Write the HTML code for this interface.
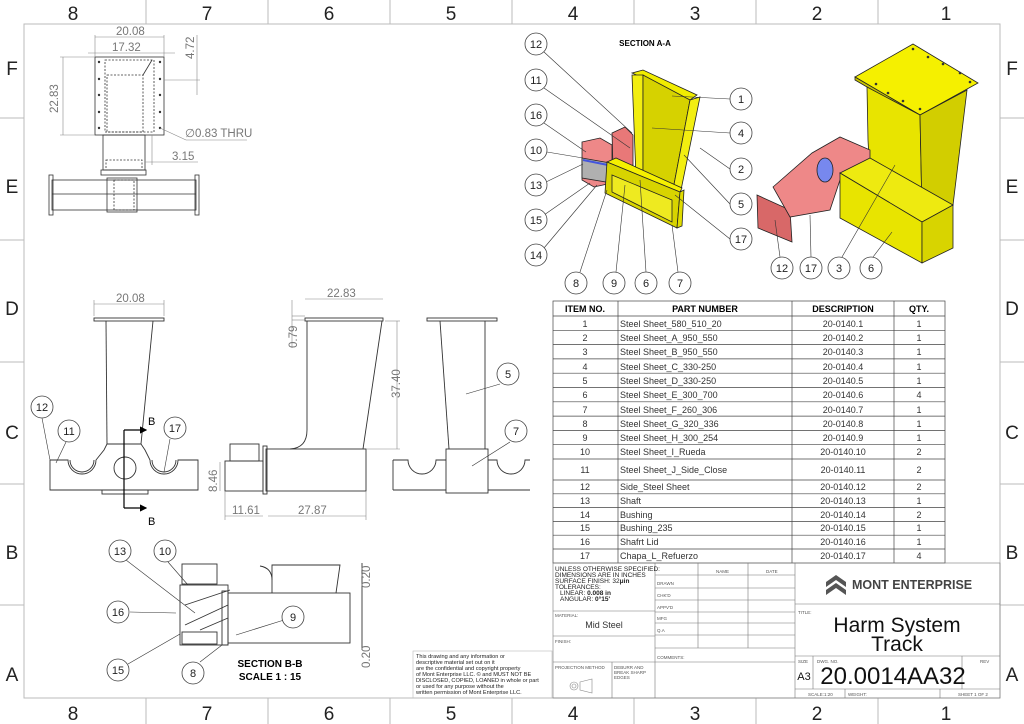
<!DOCTYPE html>
<html><head><meta charset="utf-8"><style>
html,body{margin:0;padding:0;background:#fff;}
svg{display:block;font-family:"Liberation Sans",sans-serif;}
</style></head><body>
<svg width="1024" height="724" viewBox="0 0 1024 724" xmlns="http://www.w3.org/2000/svg">
<defs>
<marker id="ar" markerWidth="6" markerHeight="6" refX="5" refY="3" orient="auto"><path d="M0,0 L6,3 L0,6z" fill="#000"/></marker>
</defs>
<!-- frame -->
<rect x="24" y="24" width="976" height="674" fill="none" stroke="#bbb" stroke-width="1"/>
<g stroke="#bbb">
<line x1="146" y1="0" x2="146" y2="24"/><line x1="268" y1="0" x2="268" y2="24"/><line x1="390" y1="0" x2="390" y2="24"/><line x1="512" y1="0" x2="512" y2="24"/><line x1="634" y1="0" x2="634" y2="24"/><line x1="756" y1="0" x2="756" y2="24"/><line x1="878" y1="0" x2="878" y2="24"/>
<line x1="146" y1="698" x2="146" y2="724"/><line x1="268" y1="698" x2="268" y2="724"/><line x1="390" y1="698" x2="390" y2="724"/><line x1="512" y1="698" x2="512" y2="724"/><line x1="634" y1="698" x2="634" y2="724"/><line x1="756" y1="698" x2="756" y2="724"/><line x1="878" y1="698" x2="878" y2="724"/>
<line x1="0" y1="118" x2="24" y2="118"/><line x1="0" y1="240" x2="24" y2="240"/><line x1="0" y1="362" x2="24" y2="362"/><line x1="0" y1="484" x2="24" y2="484"/><line x1="0" y1="605" x2="24" y2="605"/>
<line x1="1000" y1="118" x2="1024" y2="118"/><line x1="1000" y1="240" x2="1024" y2="240"/><line x1="1000" y1="362" x2="1024" y2="362"/><line x1="1000" y1="484" x2="1024" y2="484"/><line x1="1000" y1="605" x2="1024" y2="605"/>
</g>
<g font-size="19" fill="#222" text-anchor="middle">
<text x="73" y="20">8</text><text x="207" y="20">7</text><text x="329" y="20">6</text><text x="451" y="20">5</text><text x="573" y="20">4</text><text x="695" y="20">3</text><text x="817" y="20">2</text><text x="946" y="20">1</text>
<text x="73" y="720">8</text><text x="207" y="720">7</text><text x="329" y="720">6</text><text x="451" y="720">5</text><text x="573" y="720">4</text><text x="695" y="720">3</text><text x="817" y="720">2</text><text x="946" y="720">1</text>
<text x="12" y="75">F</text><text x="12" y="193">E</text><text x="12" y="315">D</text><text x="12" y="439">C</text><text x="12" y="559">B</text><text x="12" y="681">A</text>
<text x="1012" y="75">F</text><text x="1012" y="193">E</text><text x="1012" y="315">D</text><text x="1012" y="439">C</text><text x="1012" y="559">B</text><text x="1012" y="681">A</text>
</g>

<!-- top-left view -->
<g fill="none" stroke="#333" stroke-width="0.8">
<rect x="95" y="57" width="69" height="78"/>
<rect x="105" y="60" width="49" height="72" stroke-dasharray="2,1.5"/>
<rect x="107" y="75" width="36" height="57" stroke-dasharray="2,1.5"/>
<line x1="143" y1="75" x2="152" y2="60"/>
<rect x="103" y="135" width="42" height="35"/>
<rect x="106" y="160" width="36" height="10" stroke-dasharray="2,1.5"/>
<rect x="101" y="170" width="45" height="5"/>
<rect x="52" y="180" width="144" height="30"/>
<line x1="52" y1="194" x2="196" y2="194"/>
<rect x="49" y="175" width="4" height="40"/><rect x="195" y="175" width="4" height="40"/>
<rect x="107" y="178" width="30" height="34"/>
<rect x="114" y="180" width="20" height="30" stroke-dasharray="2,1.5"/>
</g>
<g fill="#333"><circle cx="99" cy="62" r="1.2"/><circle cx="99" cy="79" r="1.2"/><circle cx="99" cy="95" r="1.2"/><circle cx="99" cy="112" r="1.2"/><circle cx="99" cy="128" r="1.2"/><circle cx="160" cy="62" r="1.2"/><circle cx="160" cy="79" r="1.2"/><circle cx="160" cy="95" r="1.2"/><circle cx="160" cy="112" r="1.2"/><circle cx="160" cy="128" r="1.2"/></g>
<g stroke="#888" stroke-width="0.6" fill="none">
<line x1="95" y1="37" x2="164" y2="37"/><line x1="95" y1="35" x2="95" y2="57"/><line x1="164" y1="35" x2="164" y2="57"/>
<line x1="88" y1="53" x2="175" y2="53"/>
<line x1="60" y1="57" x2="95" y2="57"/><line x1="60" y1="135" x2="95" y2="135"/><line x1="63" y1="57" x2="63" y2="135"/>
<line x1="197" y1="35" x2="197" y2="95"/><line x1="164" y1="80" x2="200" y2="80"/>
<line x1="160" y1="128" x2="186" y2="140"/><line x1="186" y1="140" x2="247" y2="140"/>
<line x1="152" y1="135" x2="152" y2="165"/><line x1="145" y1="162" x2="198" y2="162"/>
</g>
<g fill="#777" font-size="11.5">
<text x="116" y="35">20.08</text><text x="112" y="51">17.32</text>
<text x="58" y="113" transform="rotate(-90 58 113)">22.83</text>
<text x="194" y="59" transform="rotate(-90 194 59)">4.72</text>
<text x="185" y="137">∅0.83 THRU</text><text x="172" y="160">3.15</text>
</g>

<!-- front view -->
<g fill="none" stroke="#333" stroke-width="0.9">
<rect x="94" y="318" width="70" height="3"/>
<line x1="106" y1="321" x2="107" y2="444"/><line x1="153" y1="321" x2="141" y2="444"/>
<line x1="107" y1="444" x2="141" y2="444"/>
<path d="M50,460 H68 A14,14 0 0 0 96,460 L104,450 L107,444"/>
<path d="M141,444 L145,450 L150,460 A14,14 0 0 0 178,460 H198 V490 H50 V460"/>
<path d="M70,460 A12,12 0 0 0 94,460"/><path d="M152,460 A12,12 0 0 0 176,460"/>
<circle cx="125" cy="468" r="11"/>
<rect x="102" y="490" width="46" height="4"/>
</g>
<g stroke="#888" stroke-width="0.6"><line x1="94" y1="304" x2="164" y2="304"/><line x1="94" y1="300" x2="94" y2="316"/><line x1="164" y1="300" x2="164" y2="316"/></g>
<text x="116" y="302" font-size="11.5" fill="#777">20.08</text>
<g stroke="#000" stroke-width="1.2"><line x1="124" y1="430" x2="124" y2="508"/><line x1="124" y1="430" x2="146" y2="430" marker-end="url(#ar)"/><line x1="124" y1="508" x2="146" y2="508" marker-end="url(#ar)"/></g>
<text x="148" y="425" font-size="11">B</text><text x="148" y="525" font-size="11">B</text>

<!-- side view -->
<g fill="none" stroke="#333" stroke-width="0.9">
<rect x="305" y="318" width="78" height="3"/>
<path d="M307,321 V430 Q307,448 290,449"/><line x1="382" y1="321" x2="363" y2="449"/>
<rect x="266" y="449" width="100" height="42"/>
<rect x="263" y="446" width="4" height="48"/>
<rect x="225" y="461" width="38" height="30"/>
<rect x="230" y="444" width="29" height="17"/>
</g>
<g stroke="#888" stroke-width="0.6" fill="none">
<line x1="305" y1="299" x2="383" y2="299"/><line x1="292" y1="316" x2="305" y2="316"/><line x1="292" y1="320" x2="305" y2="320"/><line x1="292" y1="300" x2="292" y2="348"/>
<line x1="385" y1="321" x2="400" y2="321"/><line x1="366" y1="449" x2="400" y2="449"/><line x1="397" y1="321" x2="397" y2="449"/>
<line x1="220" y1="462" x2="220" y2="491"/><line x1="225" y1="516" x2="263" y2="516"/><line x1="268" y1="516" x2="366" y2="516"/>
<line x1="225" y1="491" x2="225" y2="520"/><line x1="366" y1="491" x2="366" y2="520"/>
</g>
<g fill="#777" font-size="11.5">
<text x="327" y="297">22.83</text>
<text x="297" y="348" transform="rotate(-90 297 348)">0.79</text>
<text x="400" y="398" transform="rotate(-90 400 398)">37.40</text>
<text x="217" y="492" transform="rotate(-90 217 492)">8.46</text>
<text x="232" y="514">11.61</text><text x="298" y="514">27.87</text>
</g>

<!-- right view -->
<g fill="none" stroke="#333" stroke-width="0.9">
<rect x="427" y="318" width="70" height="3"/>
<line x1="440" y1="321" x2="449" y2="449"/><line x1="485" y1="321" x2="485" y2="449"/>
<rect x="446" y="449" width="42" height="44"/>
<path d="M393,460 H408 A14,14 0 0 0 436,460 H446 M488,460 H497 A14,14 0 0 0 525,460 H530"/>
<line x1="393" y1="460" x2="393" y2="490"/><line x1="393" y1="490" x2="446" y2="490"/><line x1="488" y1="490" x2="530" y2="490"/>
</g>

<!-- section B-B -->
<g fill="none" stroke="#333" stroke-width="0.9">
<rect x="228" y="593" width="122" height="50"/>
<path d="M272,593 V565 H340 L336,593"/><path d="M272,580 Q272,568 260,566"/>
<rect x="222" y="591" width="6" height="54"/>
<rect x="180" y="585" width="48" height="60"/>
<rect x="182" y="564" width="35" height="20"/>
<rect x="182" y="632" width="35" height="12"/>
<line x1="185" y1="605" x2="230" y2="590"/><line x1="185" y1="625" x2="228" y2="605"/><line x1="200" y1="630" x2="228" y2="618"/>
<line x1="362" y1="563" x2="362" y2="650"/>
</g>
<g fill="#777" font-size="11.5"><text x="370" y="588" transform="rotate(-90 370 588)">0.20</text><text x="370" y="668" transform="rotate(-90 370 668)">0.20</text></g>
<text x="270" y="667" font-size="10" font-weight="bold" text-anchor="middle">SECTION B-B</text>
<text x="270" y="680" font-size="10" font-weight="bold" text-anchor="middle">SCALE 1 : 15</text>

<!-- disclaimer -->
<rect x="413" y="651" width="139" height="47" fill="none" stroke="#bbb" stroke-width="0.6"/>
<g font-size="5.6" fill="#222">
<text x="416" y="658">This drawing and any information or</text>
<text x="416" y="664">descriptive material set out on it</text>
<text x="416" y="670">are the confidential and copyright property</text>
<text x="416" y="676">of Mont Enterprise LLC. © and MUST NOT BE</text>
<text x="416" y="682">DISCLOSED, COPIED, LOANED in whole or part</text>
<text x="416" y="688">or used for any purpose without the</text>
<text x="416" y="694">written permission of Mont Enterprise LLC.</text>
</g>

<!-- isometric left (section A-A) -->
<text x="645" y="46" font-size="8" font-weight="bold" text-anchor="middle">SECTION A-A</text>
<g stroke="#222" stroke-width="0.8">
<polygon points="632,73 643,70 697,95 690,100" fill="#f0ec00"/>
<polygon points="632,75 643,75 643,177 636,177" fill="#f2ee10"/>
<polygon points="643,75 690,100 672,195 643,180" fill="#d6d200"/>
<polygon points="690,100 700,97 680,195 672,195" fill="#f2ee10"/>
<polygon points="582,142 600,138 612,145 612,183 594,187 582,180" fill="#ee8888"/>
<polygon points="612,133 625,127 633,135 633,165 613,168" fill="#e87878"/>
<polygon points="582,158 610,163 612,183 582,178" fill="#b0b0b0"/>
<line x1="583" y1="160" x2="608" y2="165" stroke="#4455dd" stroke-width="2"/>
<polygon points="607,162 616,158 682,188 680,192" fill="#f5f000"/>
<polygon points="607,162 680,192 677,228 605,193" fill="#d8d400"/>
<polygon points="612,175 672,200 672,222 612,192" fill="#eeea20"/>
<polygon points="680,192 684,190 682,226 677,228" fill="#e0dc00"/>
</g>
<!-- isometric right -->
<g stroke="#222" stroke-width="0.8">
<polygon points="855,77 913,44 978,83 920,115" fill="#f5f000"/>
<polygon points="855,77 920,115 920,118 855,80" fill="#c8c400"/>
<polygon points="867,87 920,115 922,210 870,177 868,140" fill="#e8e400"/>
<polygon points="920,115 967,90 953,205 922,213" fill="#d2ce00"/>
<polygon points="757,195 790,210 792,242 758,228" fill="#d86868"/>
<polygon points="773,187 812,153 840,137 870,150 870,173 840,180 830,210 790,217" fill="#ee8888"/>
<ellipse cx="825" cy="170" rx="8" ry="12" fill="#7788ee"/>
<polygon points="840,173 870,158 953,205 922,222" fill="#eeea10"/>
<polygon points="840,173 922,222 922,263 840,218" fill="#e8e400"/>
<polygon points="922,222 953,205 953,248 922,263" fill="#d8d400"/>
</g>
<g fill="#333"><circle cx="913" cy="49" r="1.3"/><circle cx="928" cy="57" r="1.3"/><circle cx="943" cy="64" r="1.3"/><circle cx="960" cy="73" r="1.3"/><circle cx="970" cy="82" r="1.3"/><circle cx="876" cy="84" r="1.3"/><circle cx="888" cy="93" r="1.3"/><circle cx="903" cy="101" r="1.3"/><circle cx="920" cy="109" r="1.3"/></g>

<!-- leaders -->
<g stroke="#333" stroke-width="0.6" fill="none">
<line x1="544" y1="52" x2="632" y2="133"/><line x1="544" y1="88" x2="630" y2="148"/><line x1="544" y1="123" x2="586" y2="152"/>
<line x1="547" y1="152" x2="583" y2="158"/><line x1="544" y1="183" x2="583" y2="164"/><line x1="544" y1="215" x2="590" y2="183"/>
<line x1="544" y1="248" x2="597" y2="185"/><line x1="580" y1="272" x2="607" y2="190"/><line x1="616" y1="272" x2="625" y2="185"/>
<line x1="646" y1="272" x2="640" y2="180"/><line x1="678" y1="272" x2="672" y2="225"/>
<line x1="730" y1="99" x2="672" y2="96"/><line x1="730" y1="133" x2="652" y2="128"/><line x1="730" y1="169" x2="700" y2="148"/>
<line x1="730" y1="204" x2="684" y2="155"/><line x1="730" y1="239" x2="675" y2="195"/>
<line x1="780" y1="257" x2="775" y2="220"/><line x1="811" y1="257" x2="810" y2="215"/><line x1="842" y1="257" x2="895" y2="165"/><line x1="873" y1="257" x2="892" y2="232"/>
<line x1="42" y1="418" x2="50" y2="460"/><line x1="66" y1="442" x2="56" y2="463"/><line x1="170" y1="439" x2="164" y2="472"/>
<line x1="500" y1="384" x2="466" y2="394"/><line x1="510" y1="442" x2="472" y2="466"/>
<line x1="126" y1="560" x2="195" y2="613"/><line x1="168" y1="562" x2="188" y2="585"/><line x1="130" y1="612" x2="176" y2="613"/>
<line x1="128" y1="664" x2="180" y2="634"/><line x1="200" y1="662" x2="222" y2="645"/><line x1="284" y1="620" x2="236" y2="635"/>
</g>
<g fill="#fff" stroke="#444" stroke-width="0.8">
<circle cx="536" cy="44" r="11"/><circle cx="536" cy="80" r="11"/><circle cx="536" cy="115" r="11"/><circle cx="536" cy="150" r="11"/><circle cx="536" cy="185" r="11"/><circle cx="536" cy="220" r="11"/><circle cx="536" cy="255" r="11"/>
<circle cx="576" cy="283" r="11"/><circle cx="614" cy="283" r="11"/><circle cx="646" cy="283" r="11"/><circle cx="680" cy="283" r="11"/>
<circle cx="741" cy="99" r="11"/><circle cx="741" cy="133" r="11"/><circle cx="741" cy="169" r="11"/><circle cx="741" cy="204" r="11"/><circle cx="741" cy="239" r="11"/>
<circle cx="782" cy="268" r="11"/><circle cx="811" cy="268" r="11"/><circle cx="839" cy="268" r="11"/><circle cx="871" cy="268" r="11"/>
<circle cx="42" cy="407" r="11"/><circle cx="69" cy="431" r="11"/><circle cx="175" cy="428" r="11"/>
<circle cx="508" cy="374" r="11"/><circle cx="516" cy="431" r="11"/>
<circle cx="120" cy="551" r="11"/><circle cx="165" cy="551" r="11"/><circle cx="118" cy="612" r="11"/><circle cx="118" cy="670" r="11"/><circle cx="193" cy="673" r="11"/><circle cx="293" cy="617" r="11"/>
</g>
<g font-size="11" fill="#222" text-anchor="middle">
<text x="536" y="48">12</text><text x="536" y="84">11</text><text x="536" y="119">16</text><text x="536" y="154">10</text><text x="536" y="189">13</text><text x="536" y="224">15</text><text x="536" y="259">14</text>
<text x="576" y="287">8</text><text x="614" y="287">9</text><text x="646" y="287">6</text><text x="680" y="287">7</text>
<text x="741" y="103">1</text><text x="741" y="137">4</text><text x="741" y="173">2</text><text x="741" y="208">5</text><text x="741" y="243">17</text>
<text x="782" y="272">12</text><text x="811" y="272">17</text><text x="839" y="272">3</text><text x="871" y="272">6</text>
<text x="42" y="411">12</text><text x="69" y="435">11</text><text x="175" y="432">17</text>
<text x="508" y="378">5</text><text x="516" y="435">7</text>
<text x="120" y="555">13</text><text x="165" y="555">10</text><text x="118" y="616">16</text><text x="118" y="674">15</text><text x="193" y="677">8</text><text x="293" y="621">9</text>
</g>

<!-- BOM -->
<g stroke="#444" stroke-width="0.7" fill="none">
<rect x="553" y="301" width="392" height="262"/>
<line x1="618" y1="301" x2="618" y2="563"/><line x1="792" y1="301" x2="792" y2="563"/><line x1="894" y1="301" x2="894" y2="563"/>
<line x1="553" y1="316" x2="945" y2="316"/><line x1="553" y1="330.3" x2="945" y2="330.3"/><line x1="553" y1="344.6" x2="945" y2="344.6"/><line x1="553" y1="358.9" x2="945" y2="358.9"/><line x1="553" y1="373.2" x2="945" y2="373.2"/><line x1="553" y1="387.5" x2="945" y2="387.5"/><line x1="553" y1="401.8" x2="945" y2="401.8"/><line x1="553" y1="416.1" x2="945" y2="416.1"/><line x1="553" y1="430.4" x2="945" y2="430.4"/><line x1="553" y1="444.7" x2="945" y2="444.7"/><line x1="553" y1="459" x2="945" y2="459"/><line x1="553" y1="480" x2="945" y2="480"/><line x1="553" y1="493.8" x2="945" y2="493.8"/><line x1="553" y1="507.6" x2="945" y2="507.6"/><line x1="553" y1="521.4" x2="945" y2="521.4"/><line x1="553" y1="535.2" x2="945" y2="535.2"/><line x1="553" y1="549" x2="945" y2="549"/>
</g>
<g font-size="9" font-weight="bold" text-anchor="middle"><text x="585" y="312">ITEM NO.</text><text x="705" y="312">PART NUMBER</text><text x="843" y="312">DESCRIPTION</text><text x="919" y="312">QTY.</text></g>
<g font-size="9" fill="#333">
<g text-anchor="middle">
<text x="585" y="327">1</text><text x="585" y="341">2</text><text x="585" y="355">3</text><text x="585" y="370">4</text><text x="585" y="384">5</text><text x="585" y="398">6</text><text x="585" y="413">7</text><text x="585" y="427">8</text><text x="585" y="441">9</text><text x="585" y="455">10</text><text x="585" y="473">11</text><text x="585" y="490">12</text><text x="585" y="504">13</text><text x="585" y="518">14</text><text x="585" y="531">15</text><text x="585" y="545">16</text><text x="585" y="559">17</text>
<text x="843" y="327">20-0140.1</text><text x="843" y="341">20-0140.2</text><text x="843" y="355">20-0140.3</text><text x="843" y="370">20-0140.4</text><text x="843" y="384">20-0140.5</text><text x="843" y="398">20-0140.6</text><text x="843" y="413">20-0140.7</text><text x="843" y="427">20-0140.8</text><text x="843" y="441">20-0140.9</text><text x="843" y="455">20-0140.10</text><text x="843" y="473">20-0140.11</text><text x="843" y="490">20-0140.12</text><text x="843" y="504">20-0140.13</text><text x="843" y="518">20-0140.14</text><text x="843" y="531">20-0140.15</text><text x="843" y="545">20-0140.16</text><text x="843" y="559">20-0140.17</text>
<text x="919" y="327">1</text><text x="919" y="341">1</text><text x="919" y="355">1</text><text x="919" y="370">1</text><text x="919" y="384">1</text><text x="919" y="398">4</text><text x="919" y="413">1</text><text x="919" y="427">1</text><text x="919" y="441">1</text><text x="919" y="455">2</text><text x="919" y="473">2</text><text x="919" y="490">2</text><text x="919" y="504">1</text><text x="919" y="518">2</text><text x="919" y="531">1</text><text x="919" y="545">1</text><text x="919" y="559">4</text>
</g>
<text x="620" y="327">Steel Sheet_580_510_20</text><text x="620" y="341">Steel Sheet_A_950_550</text><text x="620" y="355">Steel Sheet_B_950_550</text><text x="620" y="370">Steel Sheet_C_330-250</text><text x="620" y="384">Steel Sheet_D_330-250</text><text x="620" y="398">Steel Sheet_E_300_700</text><text x="620" y="413">Steel Sheet_F_260_306</text><text x="620" y="427">Steel Sheet_G_320_336</text><text x="620" y="441">Steel Sheet_H_300_254</text><text x="620" y="455">Steel Sheet_I_Rueda</text><text x="620" y="473">Steel Sheet_J_Side_Close</text><text x="620" y="490">Side_Steel Sheet</text><text x="620" y="504">Shaft</text><text x="620" y="518">Bushing</text><text x="620" y="531">Bushing_235</text><text x="620" y="545">Shafrt Lid</text><text x="620" y="559">Chapa_L_Refuerzo</text>
</g>

<!-- title block -->
<g stroke="#777" stroke-width="0.6" fill="none">
<rect x="553" y="563" width="447" height="135"/>
<line x1="655" y1="563" x2="655" y2="698"/><line x1="795" y1="563" x2="795" y2="698"/>
<line x1="553" y1="611" x2="655" y2="611"/><line x1="553" y1="636" x2="655" y2="636"/><line x1="553" y1="662" x2="795" y2="662"/>
<line x1="612" y1="662" x2="612" y2="698"/>
<line x1="655" y1="575" x2="795" y2="575"/><line x1="655" y1="588" x2="795" y2="588"/><line x1="655" y1="600" x2="795" y2="600"/><line x1="655" y1="612" x2="795" y2="612"/><line x1="655" y1="623" x2="795" y2="623"/><line x1="655" y1="635" x2="795" y2="635"/><line x1="655" y1="648" x2="795" y2="648"/>
<line x1="698" y1="563" x2="698" y2="648"/><line x1="748" y1="563" x2="748" y2="648"/>
<line x1="795" y1="604" x2="1000" y2="604"/><line x1="795" y1="656" x2="1000" y2="656"/><line x1="795" y1="689" x2="1000" y2="689"/>
<line x1="813" y1="656" x2="813" y2="689"/><line x1="962" y1="656" x2="962" y2="689"/>
<line x1="845" y1="689" x2="845" y2="698"/><line x1="940" y1="689" x2="940" y2="698"/>
</g>
<g font-size="6.5" fill="#222">
<text x="555" y="571">UNLESS OTHERWISE SPECIFIED:</text><text x="555" y="577">DIMENSIONS ARE IN INCHES</text><text x="555" y="583">SURFACE FINISH: 32<tspan font-weight="bold">μin</tspan></text><text x="555" y="589">TOLERANCES:</text><text x="560" y="595">LINEAR: <tspan font-weight="bold">0.008 in</tspan></text><text x="560" y="601">ANGULAR: <tspan font-weight="bold">0°15'</tspan></text>
</g>
<g font-size="4.5" fill="#555">
<text x="555" y="617">MATERIAL:</text><text x="555" y="643">FINISH:</text><text x="555" y="669">PROJECTION METHOD</text><text x="614" y="669">DEBURR AND</text><text x="614" y="674">BREAK SHARP</text><text x="614" y="679">EDGES</text>
<text x="716" y="573">NAME</text><text x="766" y="573">DATE</text>
<text x="657" y="585">DRAWN</text><text x="657" y="597">CHK'D</text><text x="657" y="609">APPV'D</text><text x="657" y="620">MFG</text><text x="657" y="632">Q.A</text><text x="657" y="659">COMMENTS:</text>
<text x="798" y="614">TITLE:</text><text x="798" y="663">SIZE</text><text x="817" y="663">DWG. NO.</text><text x="980" y="663">REV</text>
<text x="808" y="696">SCALE:1:20</text><text x="848" y="696">WEIGHT:</text><text x="958" y="696">SHEET 1 OF 2</text>
</g>
<text x="604" y="628" font-size="9" fill="#333" text-anchor="middle">Mid Steel</text>
<g stroke="#888" stroke-width="0.6" fill="none"><circle cx="574" cy="686" r="4"/><circle cx="574" cy="686" r="2"/><path d="M580,682 L592,679 V693 L580,690 Z"/></g>
<g fill="#555"><path d="M826,582 L836,575 L846,582 V587 L836,580 L826,587 Z"/><path d="M826,590 L836,583 L846,590 V595 L836,588 L826,595 Z"/></g>
<text x="852" y="589" font-size="12.5" font-weight="bold" fill="#444">MONT ENTERPRISE</text>
<text x="897" y="632" font-size="21" fill="#111" text-anchor="middle">Harm System</text>
<text x="897" y="651" font-size="21" fill="#111" text-anchor="middle">Track</text>
<text x="804" y="680" font-size="11" fill="#111" text-anchor="middle">A3</text>
<text x="893" y="684" font-size="24" fill="#111" text-anchor="middle">20.0014AA32</text>
</svg>
</body></html>
